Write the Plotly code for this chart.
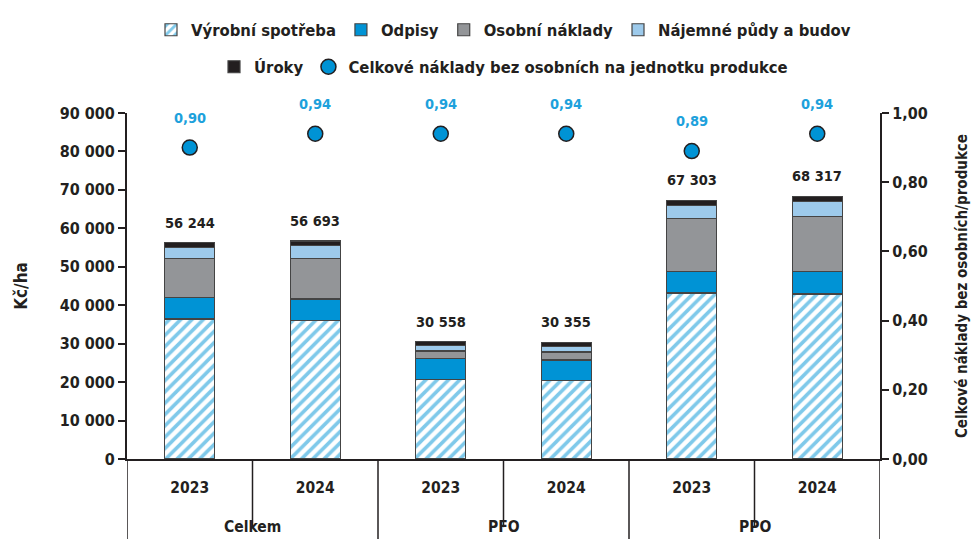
import plotly.graph_objects as go

groups = ["Celkem", "Celkem", "PFO", "PFO", "PPO", "PPO"]
years = ["2023", "2024", "2023", "2024", "2023", "2024"]

vyrobni = [36400, 36000, 20720, 20370, 43180, 42920]
odpisy = [5650, 5640, 5380, 5380, 5640, 5800]
osobni = [10040, 10590, 1990, 2080, 13690, 14310]
najemne = [2970, 3290, 1390, 1480, 3490, 3900]
uroky = [1184, 1173, 1078, 1045, 1303, 1387]
totals = [56244, 56693, 30558, 30355, 67303, 68317]
total_labels = ["56 244", "56 693", "30 558", "30 355", "67 303", "68 317"]
ratio = [0.90, 0.94, 0.94, 0.94, 0.89, 0.94]
ratio_labels = ["0,90", "0,94", "0,94", "0,94", "0,89", "0,94"]

FONT = "DejaVu Sans Condensed, Liberation Sans Narrow, Arial Narrow, sans-serif"
DARK = "#231f20"
BLUE = "#0093d5"

W, H = 972, 531  # page body has an 8 px margin

cats = [g + " " + y for g, y in zip(groups, years)]
idx = list(range(len(cats)))

fig = go.Figure()
edge = dict(color="#444444", width=1.2)
fig.add_trace(go.Bar(x=cats, y=vyrobni, name="Výrobní spotřeba", width=0.4, legend="legend",
                     marker=dict(color="white", line=edge,
                                 pattern=dict(shape="/", fgcolor=BLUE, bgcolor="white", size=8, solidity=0.45))))
fig.add_trace(go.Bar(x=cats, y=odpisy, name="Odpisy", width=0.4, legend="legend",
                     marker=dict(color=BLUE, line=edge)))
fig.add_trace(go.Bar(x=cats, y=osobni, name="Osobní náklady", width=0.4, legend="legend",
                     marker=dict(color="#939598", line=edge)))
fig.add_trace(go.Bar(x=cats, y=najemne, name="Nájemné půdy a budov", width=0.4, legend="legend",
                     marker=dict(color="#9dcaeb", line=edge)))
fig.add_trace(go.Bar(x=cats, y=uroky, name="Úroky", width=0.4, legend="legend2",
                     marker=dict(color=DARK, line=edge)))
fig.add_trace(go.Scatter(x=cats, y=ratio, yaxis="y2", mode="markers", legend="legend2",
                         name="Celkové náklady bez osobních na jednotku produkce",
                         marker=dict(size=15, color=BLUE, line=dict(color=DARK, width=1.5))))

ann = []
for i, (t, lab) in enumerate(zip(totals, total_labels)):
    ann.append(dict(x=i, y=t, xref="x", yref="y", text=lab, showarrow=False, yshift=20,
                    font=dict(family=FONT, size=14.5, color=DARK, weight="bold")))
for i, (r, lab) in enumerate(zip(ratio, ratio_labels)):
    ann.append(dict(x=i, y=r, xref="x", yref="y2", text=lab, showarrow=False, yshift=30,
                    font=dict(family=FONT, size=14.5, color="#1da1dc", weight="bold")))

# group labels and dividers under the category axis
shapes = []
group_names = list(dict.fromkeys(groups))
for g in group_names:
    pos = [i for i in idx if groups[i] == g]
    center = sum(pos) / len(pos)
    ann.append(dict(x=center, y=0, xref="x", yref="paper", text=g, showarrow=False,
                    yshift=-68, yanchor="middle",
                    font=dict(family=FONT, size=15.5, color=DARK, weight="bold")))
    shapes.append(dict(type="line", xref="x", yref="paper", x0=pos[0] - 0.5, x1=pos[0] - 0.5,
                       y0=0, y1=-0.235, line=dict(color=DARK, width=1.5)))
    for p in pos[1:]:
        shapes.append(dict(type="line", xref="x", yref="paper", x0=p - 0.5, x1=p - 0.5,
                           y0=0, y1=-0.197, line=dict(color=DARK, width=1.5)))
shapes.append(dict(type="line", xref="x", yref="paper", x0=idx[-1] + 0.5, x1=idx[-1] + 0.5,
                   y0=0, y1=-0.235, line=dict(color=DARK, width=1.5)))

fig.update_layout(
    width=W, height=H,
    barmode="stack",
    separators=", ",
    plot_bgcolor="white", paper_bgcolor="white",
    margin=dict(l=119, r=100, t=105, b=80, autoexpand=False),
    font=dict(family=FONT, size=16, color=DARK, weight="bold"),
    annotations=ann,
    shapes=shapes,
    showlegend=True,
    legend=dict(orientation="h", x=0.5, xanchor="center", y=1 - 22 / H, yanchor="middle",
                yref="container", traceorder="normal",
                font=dict(family=FONT, size=16.5, color=DARK, weight="bold")),
    legend2=dict(orientation="h", x=0.5, xanchor="center", y=1 - 59 / H, yanchor="middle",
                 yref="container", traceorder="normal",
                 font=dict(family=FONT, size=16.5, color=DARK, weight="bold")),
    xaxis=dict(type="category", showline=True, linecolor=DARK, linewidth=2,
               tickmode="array", tickvals=cats, ticktext=years, ticks="",
               ticklabelstandoff=13, range=[-0.5, len(cats) - 0.5],
               tickfont=dict(family=FONT, size=15.5, color=DARK, weight="bold")),
    yaxis=dict(range=[0, 90000], dtick=10000, tickformat=",d", showgrid=False, zeroline=False,
               showline=True, linecolor=DARK, linewidth=2, ticks="outside", ticklen=7,
               tickcolor=DARK, tickwidth=1.5,
               title=dict(text="Kč/ha", standoff=28, font=dict(family=FONT, size=17, color=DARK, weight="bold")),
               tickfont=dict(family=FONT, size=16, color=DARK, weight="bold")),
    yaxis2=dict(range=[0, 1], dtick=0.2, tickformat=".2f", overlaying="y", side="right",
                showgrid=False, zeroline=False, showline=True, linecolor=DARK, linewidth=2,
                ticks="outside", ticklen=7, tickcolor=DARK, tickwidth=1.5,
                title=dict(text="Celkové náklady bez osobních/produkce", standoff=30,
                           font=dict(family=FONT, size=15, color=DARK, weight="bold")),
                tickfont=dict(family=FONT, size=16, color=DARK, weight="bold")),
)
fig.write_html("out.html")
